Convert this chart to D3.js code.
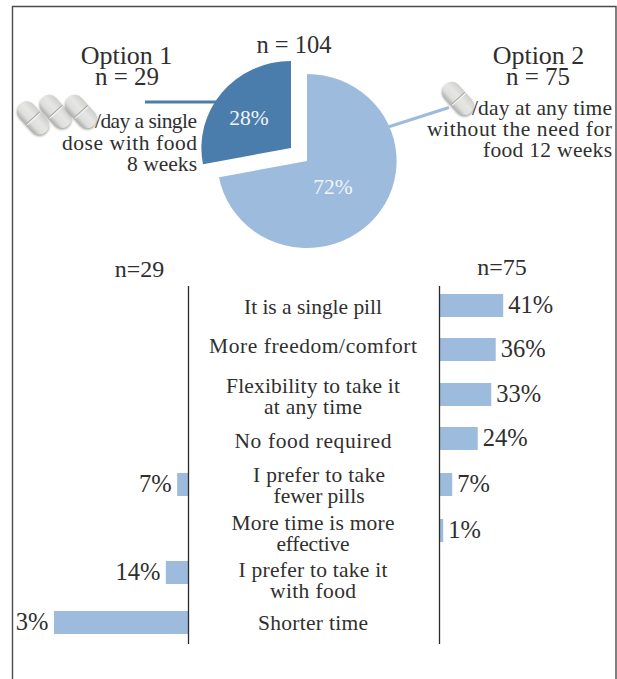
<!DOCTYPE html>
<html>
<head>
<meta charset="utf-8">
<script src="https://cdn.jsdelivr.net/npm/d3@7"></script>
<style>
  html, body { margin: 0; padding: 0; background: #fff; }
  svg { display: block; }
  text { font-family: "Liberation Serif", serif; fill: #2f2f2f; }
</style>
</head>
<body>
<svg id="chart" width="617" height="679"></svg>
<script>
// Overall split between the two regimens
const shareLabels = ["Option 1", "Option 2"];
const shareValues = [28, 72];
const totalLabel = "n = 104";
const optionCounts = ["n = 29", "n = 75"];
const optionOneLines = ["/day a single", "dose with food", "8 weeks"];
const optionTwoLines = ["/day at any time", "without the need for", "food 12 weeks"];

// Reasons given for each choice
const reasons = [
  "It is a single pill",
  "More freedom/comfort",
  "Flexibility to take it|at any time",
  "No food required",
  "I prefer to take|fewer pills",
  "More time is more|effective",
  "I prefer to take it|with food",
  "Shorter time"
];
const optionOneReasons = [null, null, null, null, 7, null, 14, 83];
const optionTwoReasons = [41, 36, 33, 24, 7, 1, null, null];
const panelCounts = ["n=29", "n=75"];

// Layout
const lightBlue = "#9dbbdc";
const darkBlue = "#4a7dac";
const ink = "#2b2b2b";
const leftAxisX = 188.5;
const rightAxisX = 439.5;
const barHeight = 23;
const rowTops = [294, 338, 383, 427, 473, 519, 561, 611];
const reasonBaselines = [314, 353, 393, 448, 482, 530, 577, 630];
const reasonCentres = [313, 313, 313, 313, 319, 313, 313, 313];
const reasonLineGap = 21;
// Set widths of the text lines, so each line keeps its measure in the fallback serif
const lineWidths = {
  "It is a single pill": 138, "More freedom/comfort": 208,
  "Flexibility to take it": 174, "at any time": 98, "No food required": 157,
  "I prefer to take": 132, "fewer pills": 91, "More time is more": 163,
  "effective": 73, "I prefer to take it": 149, "with food": 86, "Shorter time": 110,
  "/day a single": 102, "dose with food": 135, "8 weeks": 70,
  "/day at any time": 140, "without the need for": 185, "food 12 weeks": 129
};

const svg = d3.select("#chart");

// Panel frame, open along the bottom
svg.append("path")
  .attr("d", "M12.5,679V6.5H616V679")
  .attr("fill", "none").attr("stroke", "#4a4a4a").attr("stroke-width", 1.4);

// Option 1's long label runs into the frame, which cuts off what lies beyond it
svg.append("clipPath").attr("id", "inside-frame")
  .append("rect").attr("x", 16).attr("y", 0).attr("width", 600).attr("height", 679);

// ---- Pie ----
const pie = d3.pie().sort(null).startAngle(-shareValues[0] / 100 * 2 * Math.PI)
  .endAngle(2 * Math.PI - shareValues[0] / 100 * 2 * Math.PI);
const arc = d3.arc().innerRadius(0).outerRadius(87);
const sliceOrigins = [[291, 148], [307, 161]];
const sliceFills = [darkBlue, lightBlue];
const sliceLabelAt = [[249, 125], [333, 194]];

// Connector lines sit under the slices
svg.append("line").attr("x1", 145).attr("y1", 102).attr("x2", 220).attr("y2", 102)
  .attr("stroke", darkBlue).attr("stroke-width", 3);
svg.append("line").attr("x1", 385).attr("y1", 128).attr("x2", 449).attr("y2", 107.5)
  .attr("stroke", lightBlue).attr("stroke-width", 3);

svg.selectAll("path.slice").data(pie(shareValues)).join("path")
  .attr("class", "slice")
  .attr("transform", (d, i) => `translate(${sliceOrigins[i]}) scale(1.03,1)`)
  .attr("d", arc)
  .attr("fill", (d, i) => sliceFills[i]);

svg.selectAll("text.share").data(shareValues).join("text")
  .attr("class", "share")
  .attr("x", (d, i) => sliceLabelAt[i][0])
  .attr("y", (d, i) => sliceLabelAt[i][1])
  .attr("text-anchor", "middle")
  .attr("font-size", 21.5)
  .style("fill", "#f1f5fa")
  .text(d => d + "%");

// ---- Pill glyphs ----
const defs = svg.append("defs");
const pillShade = defs.append("linearGradient").attr("id", "pill-shade")
  .attr("x1", 0).attr("y1", 0).attr("x2", 0).attr("y2", 1);
pillShade.append("stop").attr("offset", "0%").attr("stop-color", "#cfcfcc");
pillShade.append("stop").attr("offset", "40%").attr("stop-color", "#e6e6e4");
pillShade.append("stop").attr("offset", "75%").attr("stop-color", "#dededc");
pillShade.append("stop").attr("offset", "100%").attr("stop-color", "#b2b2b0");
defs.append("filter").attr("id", "pill-soft").append("feGaussianBlur").attr("stdDeviation", 0.9);

const pillCentres = [[33, 118], [55.5, 111.5], [81, 111.5], [458, 98.5]];
const pill = svg.selectAll("g.pill").data(pillCentres).join("g")
  .attr("class", "pill")
  .attr("transform", d => `translate(${d}) rotate(48)`);
pill.append("rect")
  .attr("x", -18).attr("y", -8.5).attr("width", 38).attr("height", 19).attr("rx", 9)
  .attr("fill", "#9f9f9d").attr("filter", "url(#pill-soft)");
pill.append("rect")
  .attr("x", -19).attr("y", -9.5).attr("width", 38).attr("height", 19).attr("rx", 9)
  .attr("fill", "url(#pill-shade)");
pill.append("line")
  .attr("x1", 0).attr("x2", 0).attr("y1", -9).attr("y2", 9)
  .attr("stroke", "#a3a3a1").attr("stroke-width", 1);
pill.append("line")
  .attr("x1", 1.2).attr("x2", 1.2).attr("y1", -9).attr("y2", 9)
  .attr("stroke", "#f6f6f6").attr("stroke-width", 1);

// ---- Headings around the pie ----
function put(str, x, y, size, anchor) {
  const t = svg.append("text").attr("x", x).attr("y", y)
    .attr("font-size", size).attr("text-anchor", anchor || "middle").text(str);
  if (lineWidths[str]) t.attr("textLength", lineWidths[str]);
  return t;
}
put(totalLabel, 294, 53, 24.5);
put(shareLabels[0], 126.5, 64, 26);
put(optionCounts[0], 127, 85, 25);
put(shareLabels[1], 538.5, 64, 26);
put(optionCounts[1], 538, 85, 25);
optionOneLines.forEach((line, i) => put(line, 197, 128 + i * 21.5, 21.5, "end"));
optionTwoLines.forEach((line, i) => put(line, 612, 115 + i * 21, 21.5, "end"));

put(panelCounts[0], 139.5, 277, 24);
put(panelCounts[1], 502, 275, 24);

// ---- Reason panels ----
const rowY = d3.scaleOrdinal(reasons, rowTops);
const reasonY = d3.scaleOrdinal(reasons, reasonBaselines);
const reasonX = d3.scaleOrdinal(reasons, reasonCentres);
const leftLength = d3.scaleLinear([0, 100], [0, 162]);
const rightLength = d3.scaleLinear([0, 100], [2.2, 152.2]);

const leftRows = reasons.map((r, i) => ({ reason: r, value: optionOneReasons[i] })).filter(d => d.value !== null);
const rightRows = reasons.map((r, i) => ({ reason: r, value: optionTwoReasons[i] })).filter(d => d.value !== null);

svg.selectAll("rect.left-bar").data(leftRows).join("rect")
  .attr("class", "left-bar")
  .attr("x", d => leftAxisX - leftLength(d.value))
  .attr("y", d => rowY(d.reason))
  .attr("width", d => leftLength(d.value))
  .attr("height", barHeight)
  .attr("fill", lightBlue);

svg.selectAll("rect.right-bar").data(rightRows).join("rect")
  .attr("class", "right-bar")
  .attr("x", rightAxisX)
  .attr("y", d => rowY(d.reason))
  .attr("width", d => rightLength(d.value))
  .attr("height", barHeight)
  .attr("fill", lightBlue);

svg.selectAll("text.left-value").data(leftRows).join("text")
  .attr("class", "left-value")
  .attr("x", d => leftAxisX - leftLength(d.value) - 5.5)
  .attr("y", d => rowY(d.reason) + 18.5)
  .attr("text-anchor", "end")
  .attr("font-size", 24.5)
  .attr("clip-path", "url(#inside-frame)")
  .text(d => d.value + "%");

svg.selectAll("text.right-value").data(rightRows).join("text")
  .attr("class", "right-value")
  .attr("x", d => rightAxisX + rightLength(d.value) + 5)
  .attr("y", d => rowY(d.reason) + 19)
  .attr("font-size", 24.5)
  .text(d => d.value + "%");

// Baselines of the two panels
[leftAxisX, rightAxisX].forEach(x => {
  svg.append("line").attr("x1", x).attr("x2", x).attr("y1", 286).attr("y2", 644)
    .attr("stroke", ink).attr("stroke-width", 1.3);
});

// Reason text between the panels, one text per printed line
reasons.forEach(reason => {
  reason.split("|").forEach((line, i) => {
    put(line, reasonX(reason), reasonY(reason) + i * reasonLineGap, 21.5).attr("class", "reason");
  });
});
</script>
</body>
</html>
